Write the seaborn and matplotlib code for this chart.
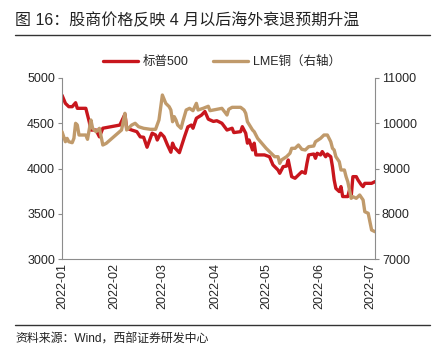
import matplotlib
matplotlib.use("Agg")
import matplotlib.pyplot as plt
import matplotlib.dates as mdates
import pandas as pd
import seaborn as sns

csi500_dates = [
    "2022-01-01", "2022-01-03", "2022-01-05", "2022-01-07", "2022-01-09", "2022-01-10",
    "2022-01-15", "2022-01-17", "2022-01-18", "2022-01-21", "2022-01-23", "2022-01-25",
    "2022-02-04", "2022-02-07", "2022-02-08", "2022-02-11", "2022-02-14", "2022-02-16",
    "2022-02-18", "2022-02-20", "2022-02-23", "2022-02-25", "2022-02-26", "2022-02-28",
    "2022-03-02", "2022-03-04", "2022-03-06", "2022-03-07", "2022-03-08", "2022-03-11",
    "2022-03-14", "2022-03-16", "2022-03-18", "2022-03-19", "2022-03-21", "2022-03-24",
    "2022-03-26", "2022-03-28", "2022-03-31", "2022-04-02", "2022-04-05", "2022-04-08",
    "2022-04-11", "2022-04-12", "2022-04-16", "2022-04-17", "2022-04-19", "2022-04-20",
    "2022-04-21", "2022-04-23", "2022-04-24", "2022-04-25", "2022-04-30", "2022-05-03",
    "2022-05-05", "2022-05-08", "2022-05-09", "2022-05-11", "2022-05-13", "2022-05-14",
    "2022-05-15", "2022-05-16", "2022-05-18", "2022-05-21", "2022-05-22", "2022-05-24",
    "2022-05-25", "2022-05-26", "2022-05-29", "2022-05-30", "2022-05-31", "2022-06-02",
    "2022-06-03", "2022-06-05", "2022-06-06", "2022-06-08", "2022-06-09", "2022-06-10",
    "2022-06-11", "2022-06-13", "2022-06-14", "2022-06-15", "2022-06-18", "2022-06-19",
    "2022-06-20", "2022-06-21", "2022-06-23", "2022-06-24", "2022-06-26", "2022-06-27",
    "2022-06-28", "2022-07-02", "2022-07-04",
]
csi500_values = [
    4810, 4720, 4683, 4683, 4727, 4665,
    4665, 4517, 4425, 4425, 4350, 4445,
    4480, 4600, 4445, 4425, 4407, 4350,
    4345, 4235, 4390, 4370, 4315, 4390,
    4350, 4260, 4180, 4280, 4235, 4175,
    4350, 4460, 4480, 4445, 4555, 4590,
    4630, 4545, 4520, 4528, 4500, 4425,
    4445, 4397, 4407, 4462, 4390, 4280,
    4315, 4205, 4280, 4150, 4150, 4130,
    4040, 3983, 3947, 4020, 4027, 4094,
    4002, 3910, 3892, 3947, 3965, 3947,
    4057, 4150, 4160, 4113, 4168, 4150,
    4187, 4130, 4160, 4130, 4020, 3873,
    3780, 3745, 3800, 3690, 3690, 3763,
    3690, 3910, 3910, 3873, 3818, 3800,
    3836, 3836, 3855,
]

copper_dates = [
    "2022-01-01", "2022-01-03", "2022-01-04", "2022-01-05", "2022-01-07", "2022-01-08",
    "2022-01-09", "2022-01-10", "2022-01-11", "2022-01-15", "2022-01-16", "2022-01-18",
    "2022-01-19", "2022-01-21", "2022-01-23", "2022-01-24", "2022-01-25", "2022-01-27",
    "2022-02-05", "2022-02-07", "2022-02-08", "2022-02-11", "2022-02-13", "2022-02-15",
    "2022-02-18", "2022-02-22", "2022-02-25", "2022-02-27", "2022-03-01", "2022-03-03",
    "2022-03-05", "2022-03-06", "2022-03-07", "2022-03-08", "2022-03-09", "2022-03-10",
    "2022-03-12", "2022-03-13", "2022-03-15", "2022-03-17", "2022-03-19", "2022-03-21",
    "2022-03-22", "2022-03-25", "2022-03-28", "2022-03-29", "2022-04-05", "2022-04-07",
    "2022-04-08", "2022-04-09", "2022-04-11", "2022-04-16", "2022-04-18", "2022-04-19",
    "2022-04-20", "2022-04-23", "2022-04-24", "2022-04-26", "2022-05-01", "2022-05-06",
    "2022-05-08", "2022-05-09", "2022-05-10", "2022-05-13", "2022-05-15", "2022-05-16",
    "2022-05-18", "2022-05-20", "2022-05-22", "2022-05-24", "2022-05-26", "2022-05-29",
    "2022-05-30", "2022-06-02", "2022-06-04", "2022-06-06", "2022-06-08", "2022-06-09",
    "2022-06-10", "2022-06-11", "2022-06-13", "2022-06-14", "2022-06-16", "2022-06-17",
    "2022-06-18", "2022-06-20", "2022-06-21", "2022-06-23", "2022-06-25", "2022-06-27",
    "2022-06-28", "2022-06-30", "2022-07-01", "2022-07-02", "2022-07-04",
]
copper_values = [
    9813, 9592, 9666, 9592, 9570, 9666,
    9999, 9961, 9740, 9740, 9645, 10072,
    9888, 9813, 9888, 9703, 9519, 9556,
    9851, 10220, 9851, 9961, 9999, 9924,
    9888, 9866, 9866, 10072, 10624, 10440,
    10366, 10293, 10034, 10145, 10072, 9961,
    9888, 10034, 10293, 10330, 10278, 10440,
    10293, 10330, 10375, 10278, 10330, 10233,
    10182, 10308, 10352, 10352, 10293, 10220,
    10034, 9851, 9813, 9666, 9446, 9261,
    9261, 9114, 9188, 9261, 9336, 9446,
    9446, 9519, 9424, 9409, 9482, 9497,
    9592, 9666, 9740, 9740, 9592, 9446,
    9409, 9261, 9150, 8967, 8967, 8819,
    8709, 8341, 8377, 8341, 8414, 8304,
    8045, 8010, 7824, 7641, 7603,
]

month_ticks = ["2022-01", "2022-02", "2022-03", "2022-04", "2022-05", "2022-06", "2022-07"]

csi = pd.DataFrame({"date": pd.to_datetime(csi500_dates), "value": csi500_values})
cu = pd.DataFrame({"date": pd.to_datetime(copper_dates), "value": copper_values})

sns.set_style("white")
plt.rcParams["font.family"] = ["Liberation Sans", "Noto Sans CJK SC", "DejaVu Sans"]

red = "#C8161D"
gold = "#C09A6B"
spine_grey = "#8C8C8C"

fig = plt.figure(figsize=(4.35, 3.57), dpi=100)
ax = fig.add_axes([62 / 435, 1 - 259 / 357, (375 - 62) / 435, (259 - 78) / 357])
ax2 = ax.twinx()

sns.lineplot(data=csi, x="date", y="value", ax=ax, color=red, linewidth=2.4, label="标普500", legend=False)
sns.lineplot(data=cu, x="date", y="value", ax=ax2, color=gold, linewidth=2.4, label="LME铜（右轴）", legend=False)

ax.set_xlim(pd.Timestamp("2022-01-01"), pd.Timestamp("2022-07-04"))
ax.set_ylim(3000, 5000)
ax.set_yticks([3000, 3500, 4000, 4500, 5000])
ax2.set_ylim(7000, 11000)
ax2.set_yticks([7000, 8000, 9000, 10000, 11000])
ax.set_xticks(pd.to_datetime(month_ticks))
ax.xaxis.set_major_formatter(mdates.DateFormatter("%Y-%m"))
for label in ax.get_xticklabels():
    label.set_rotation(90)

ax.set_xlabel("")
ax.set_ylabel("")
ax2.set_ylabel("")
for a in (ax, ax2):
    a.spines["top"].set_visible(False)
    for s in ("left", "right", "bottom"):
        a.spines[s].set_color(spine_grey)
        a.spines[s].set_linewidth(0.8)
ax.spines["right"].set_visible(False)
ax2.spines["left"].set_visible(False)
ax2.spines["bottom"].set_visible(False)

ax.tick_params(axis="y", direction="out", length=3, color=spine_grey, labelsize=9, pad=2)
ax.tick_params(axis="x", direction="in", length=3, color=spine_grey, labelsize=9, pad=3)
ax2.tick_params(axis="y", direction="out", length=3, color=spine_grey, labelsize=9, pad=2)

lines = ax.get_lines() + ax2.get_lines()
fig.legend(lines, [l.get_label() for l in lines], loc="center", bbox_to_anchor=(222 / 435, 1 - 62 / 357),
           ncol=2, frameon=False, fontsize=9, handlelength=2.8, columnspacing=2.0, handletextpad=0.4)

fig.text(15 / 435, 1 - 21 / 357, "图 16：股商价格反映 4 月以后海外衰退预期升温", fontsize=11.5,
         ha="left", va="center", color="#222222")
fig.add_artist(plt.Line2D([15 / 435, 430 / 435], [1 - 35 / 357, 1 - 35 / 357], color="#333333", linewidth=1.0))
fig.add_artist(plt.Line2D([15 / 435, 430 / 435], [1 - 325 / 357, 1 - 325 / 357], color="#333333", linewidth=1.0))
fig.text(15 / 435, 1 - 340 / 357, "资料来源：Wind，西部证券研发中心", fontsize=8.6, ha="left", va="center", color="#222222")

fig.savefig("out.png", dpi=100)
